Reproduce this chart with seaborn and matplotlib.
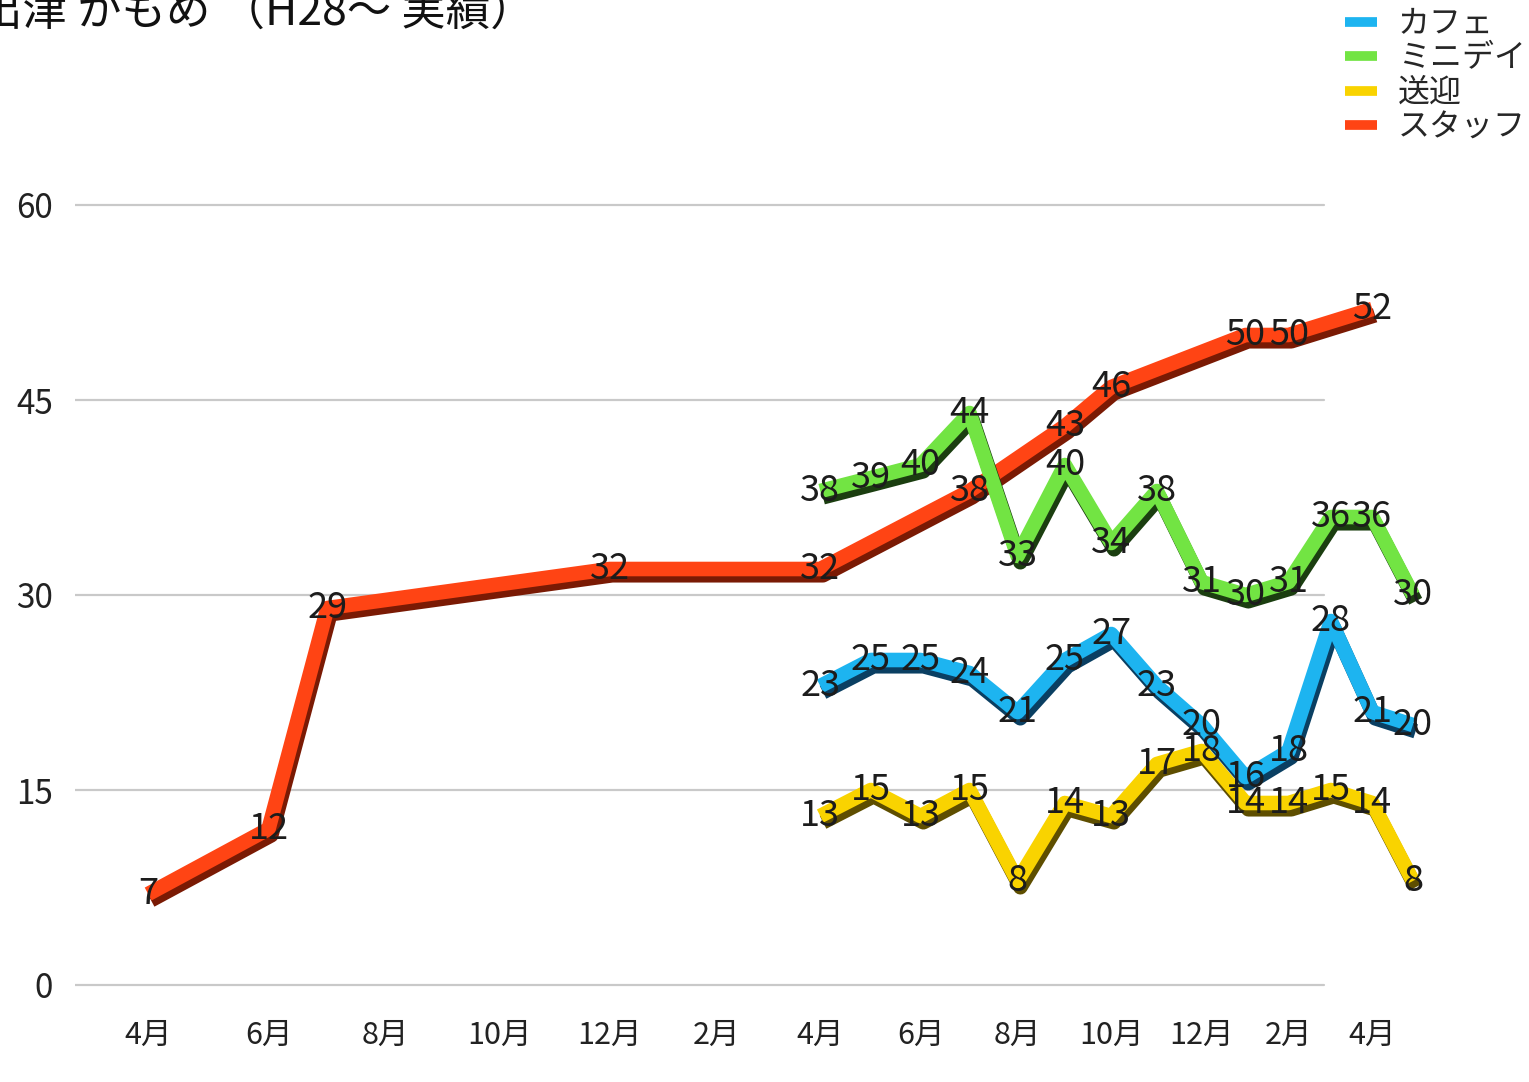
import numpy as np
import pandas as pd
import seaborn as sns
import matplotlib
matplotlib.use("Agg")
import matplotlib.pyplot as plt
from matplotlib import patheffects as pe
from matplotlib.lines import Line2D

# ---- data -------------------------------------------------------------
# month index 0 = H28 April, 25 = H30 May
tick_months = [0, 2, 4, 6, 8, 10, 12, 14, 16, 18, 20, 22, 24]
tick_labels = ["4月", "6月", "8月", "10月", "12月", "2月",
               "4月", "6月", "8月", "10月", "12月", "2月", "4月"]

series_names = ["カフェ", "ミニデイ", "送迎", "スタッフ"]

program_months = list(range(12, 26))          # H29 April .. H30 May
cafe = [23, 25, 25, 24, 21, 25, 27, 23, 20, 16, 18, 28, 21, 20]
miniday = [38, 39, 40, 44, 33, 40, 34, 38, 31, 30, 31, 36, 36, 30]
sougei = [13, 15, 13, 15, 8, 14, 13, 17, 18, 14, 14, 15, 14, 8]

staff_months = [0, 2, 3, 8, 12, 15, 17, 18, 21, 22, 24]
staff = [7, 12, 29, 32, 32, 38, 43, 46, 50, 50, 52]

y_ticks = [0, 15, 30, 45, 60]

colors = {"カフェ": "#1DB4F0", "ミニデイ": "#72E443",
          "送迎": "#F9D300", "スタッフ": "#FF4414"}
edge_colors = {"カフェ": "#0A3F62", "ミニデイ": "#1B3E10",
               "送迎": "#5E4E00", "スタッフ": "#7A1A04"}

frames = [
    pd.DataFrame({"month": staff_months, "value": staff, "series": "スタッフ"}),
    pd.DataFrame({"month": program_months, "value": sougei, "series": "送迎"}),
    pd.DataFrame({"month": program_months, "value": miniday, "series": "ミニデイ"}),
    pd.DataFrame({"month": program_months, "value": cafe, "series": "カフェ"}),
]
df = pd.concat(frames, ignore_index=True)

# ---- style ------------------------------------------------------------
sns.set_theme(style="white")
plt.rcParams["font.family"] = ["Noto Sans CJK JP", "DejaVu Sans"]

fig = plt.figure(figsize=(15.29, 10.82), dpi=100)
ax = fig.add_axes([75 / 1529, (1082 - 998) / 1082, (1440 - 75) / 1529, 819 / 1082])

draw_order = ["スタッフ", "送迎", "ミニデイ", "カフェ"]
sns.lineplot(data=df, x="month", y="value", hue="series",
             hue_order=draw_order, palette=colors, linewidth=10.5,
             legend=False, ax=ax, solid_joinstyle="round",
             solid_capstyle="butt")

for line, name in zip(ax.lines, draw_order):
    line.set_path_effects([
        pe.SimpleLineShadow(offset=(2.0, -4.5), shadow_color=edge_colors[name], alpha=1.0),
        pe.Normal(),
    ])

# slight foreshortening of the time axis toward the right
K = 0.006831


def fwd(m):
    m = np.asarray(m, dtype=float)
    return m - K * m * m


def inv(u):
    u = np.asarray(u, dtype=float)
    arg = np.clip(1 - 4 * K * u, 1e-9, None)
    return (1 - np.sqrt(arg)) / (2 * K)


ax.set_xscale("function", functions=(fwd, inv))
ax.set_xlim(-1.19, 25.68)
ax.set_ylim(-1, 62)

# value labels
for name, months, vals in [("スタッフ", staff_months, staff),
                           ("送迎", program_months, sougei),
                           ("ミニデイ", program_months, miniday),
                           ("カフェ", program_months, cafe)]:
    for m, v in zip(months, vals):
        ax.text(m, v, str(v), ha="center", va="center", fontsize=26,
                color="#1c1c1c", zorder=6)

# horizontal guides
for y in y_ticks:
    ax.axhline(y, xmin=0, xmax=0.915, color="#c9c9c9", lw=1.6, zorder=0)
ax.grid(False)

ax.set_yticks(y_ticks)
ax.set_yticklabels([str(t) for t in y_ticks])
ax.set_xticks(tick_months)
ax.set_xticklabels(tick_labels)
ax.set_xlabel("")
ax.set_ylabel("")
ax.tick_params(axis="y", length=0, pad=16, labelsize=24, labelcolor="#222222")
ax.tick_params(axis="x", length=0, pad=16, labelsize=22, labelcolor="#222222")
sns.despine(ax=ax, left=True, bottom=True)

# legend
handles = [Line2D([], [], color=colors[n], lw=7, solid_capstyle="butt")
           for n in series_names]
fig.legend(handles, series_names, loc="upper left",
           bbox_to_anchor=(1345 / 1529, 1 - 8 / 1082),
           bbox_transform=fig.transFigure, frameon=False, fontsize=23,
           handlelength=1.0, handletextpad=0.65, labelspacing=0.08,
           borderaxespad=0, borderpad=0)

# title
fig.text(-22 / 1529, 1 - 25 / 1082, "出津 かもめ （H28〜 実績）",
         fontsize=32, ha="left", va="baseline", color="#111111")

fig.savefig("out.png", dpi=100)
